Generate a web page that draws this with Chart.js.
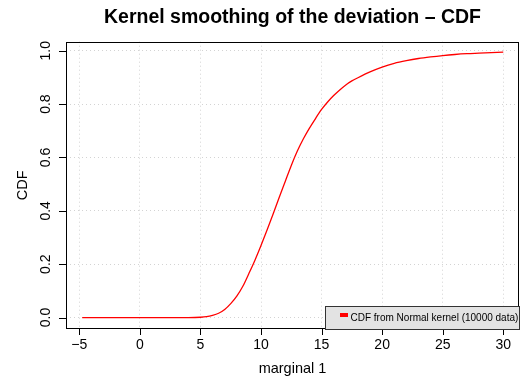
<!DOCTYPE html>
<html>
<head>
<meta charset="utf-8">
<script src="https://cdn.jsdelivr.net/npm/chart.js@4/dist/chart.umd.min.js"></script>
<style>
  html, body { margin: 0; padding: 0; background: #ffffff; }
  #wrap { width: 525px; height: 384px; }
</style>
</head>
<body>
<div id="wrap"><canvas id="c" width="525" height="384"></canvas></div>
<script>
// ---- data ----
const chartTitle = 'Kernel smoothing of the deviation \u2013 CDF';
const xAxisTitle = 'marginal 1';
const yAxisTitle = 'CDF';
const seriesLabel = 'CDF from Normal kernel (10000 data)';
const xTicks = [-5, 0, 5, 10, 15, 20, 25, 30];
const yTicks = [0.0, 0.2, 0.4, 0.6, 0.8, 1.0];
const xValues = [-4.76, -2, 0, 2, 4, 5, 5.5, 6, 6.5, 7, 7.5, 8, 8.5, 9, 9.5, 10, 10.5, 11, 11.5, 12, 12.5, 13, 13.5, 14, 14.5, 15, 15.5, 16, 16.5, 17, 17.5, 18, 19, 20, 21, 22, 23, 24, 25, 26, 27, 28, 29, 30];
const cdfValues = [0, 0, 0, 0, 0, 0.001, 0.003, 0.008, 0.016, 0.030, 0.052, 0.080, 0.117, 0.165, 0.215, 0.270, 0.328, 0.388, 0.450, 0.510, 0.570, 0.624, 0.670, 0.710, 0.746, 0.780, 0.808, 0.832, 0.853, 0.872, 0.887, 0.899, 0.921, 0.939, 0.953, 0.963, 0.971, 0.977, 0.982, 0.986, 0.989, 0.991, 0.993, 0.995];

const FONT = "'Liberation Sans', Arial, Helvetica, sans-serif";
const minus = s => String(s).replace('-', '\u2212');

const points = xValues.map((x, i) => ({ x: x, y: cdfValues[i] }));

const decor = {
  id: 'decor',
  afterDraw(chart) {
    const ctx = chart.ctx;
    const a = chart.chartArea;
    const xs = chart.scales.x, ys = chart.scales.y;
    ctx.save();
    // plot box
    ctx.strokeStyle = '#000';
    ctx.lineWidth = 1;
    ctx.setLineDash([]);
    ctx.strokeRect(Math.round(a.left) + 0.5, Math.round(a.top) + 0.5,
                   Math.round(a.right - a.left) - 1, Math.round(a.bottom - a.top) - 1);
    // x tick marks
    ctx.beginPath();
    xTicks.forEach(v => {
      const px = Math.round(xs.getPixelForValue(v)) + 0.5;
      ctx.moveTo(px, Math.round(a.bottom));
      ctx.lineTo(px, Math.round(a.bottom) + 6);
    });
    // y tick marks
    yTicks.forEach(v => {
      const py = Math.round(ys.getPixelForValue(v)) + 0.5;
      ctx.moveTo(Math.round(a.left) - 7, py);
      ctx.lineTo(Math.round(a.left), py);
    });
    ctx.stroke();
    // y tick labels (rotated, R style)
    ctx.fillStyle = '#000';
    ctx.font = '14px ' + FONT;
    ctx.textAlign = 'center';
    ctx.textBaseline = 'middle';
    yTicks.forEach(v => {
      const py = ys.getPixelForValue(v);
      ctx.save();
      ctx.translate(46, py);
      ctx.rotate(-Math.PI / 2);
      ctx.fillText(v.toFixed(1), 0, 0);
      ctx.restore();
    });
    // legend box (bottom right inside plot)
    const lw = 194, lh = 23;
    const lx = Math.round(a.right) - lw, ly = Math.round(a.bottom) - lh;
    ctx.fillStyle = '#e3e3e3';
    ctx.fillRect(lx, ly, lw, lh);
    ctx.strokeStyle = '#333';
    ctx.strokeRect(lx + 0.5, ly + 0.5, lw, lh);
    const ds = chart.data.datasets[0];
    ctx.fillStyle = ds.borderColor;
    ctx.fillRect(lx + 15, ly + 7, 8, 4);
    ctx.fillStyle = '#000';
    ctx.font = '10px ' + FONT;
    ctx.textAlign = 'left';
    ctx.textBaseline = 'middle';
    ctx.fillText(ds.label, lx + 25.5, ly + 12);
    ctx.restore();
  }
};

new Chart(document.getElementById('c'), {
  type: 'line',
  data: {
    datasets: [{
      label: seriesLabel,
      data: points,
      borderColor: '#ff0000',
      backgroundColor: '#ff0000',
      borderWidth: 1.3,
      pointRadius: 0,
      fill: false,
      cubicInterpolationMode: 'monotone'
    }]
  },
  options: {
    responsive: false,
    animation: false,
    devicePixelRatio: 1,
    layout: { padding: { left: 0, right: 6, top: 0, bottom: 0 } },
    plugins: {
      legend: { display: false },
      tooltip: { enabled: false },
      title: {
        display: true,
        text: chartTitle,
        fullSize: false,
        color: '#000',
        font: { family: FONT, size: 19.5, weight: 'bold', lineHeight: 1.2 },
        padding: { top: 6, bottom: 12.3 }
      }
    },
    scales: {
      x: {
        type: 'linear',
        min: -6.1,
        max: 31.3,
        afterFit(s) { s.height = 55; },
        afterBuildTicks(s) { s.ticks = xTicks.map(v => ({ value: v })); },
        ticks: {
          color: '#000',
          font: { family: FONT, size: 14 },
          padding: 8,
          maxRotation: 0,
          autoSkip: false,
          callback: v => minus(v)
        },
        grid: { color: '#d3d3d3', drawTicks: false, lineWidth: 1 },
        border: { display: false, dash: [1, 3] },
        title: {
          display: true,
          text: xAxisTitle,
          color: '#000',
          font: { family: FONT, size: 14.5, lineHeight: 1.2 },
          padding: { top: 0, bottom: 6.3 }
        }
      },
      y: {
        type: 'linear',
        min: -0.043,
        max: 1.034,
        afterFit(s) { s.width = 66; },
        afterBuildTicks(s) { s.ticks = yTicks.map(v => ({ value: v })); },
        ticks: { display: false },
        grid: { color: '#d3d3d3', drawTicks: false, lineWidth: 1 },
        border: { display: false, dash: [1, 3] },
        title: {
          display: true,
          text: yAxisTitle,
          color: '#000',
          font: { family: FONT, size: 14.5, lineHeight: 1.2 },
          padding: { top: 14, bottom: 0 }
        }
      }
    }
  },
  plugins: [decor]
});
</script>
</body>
</html>
